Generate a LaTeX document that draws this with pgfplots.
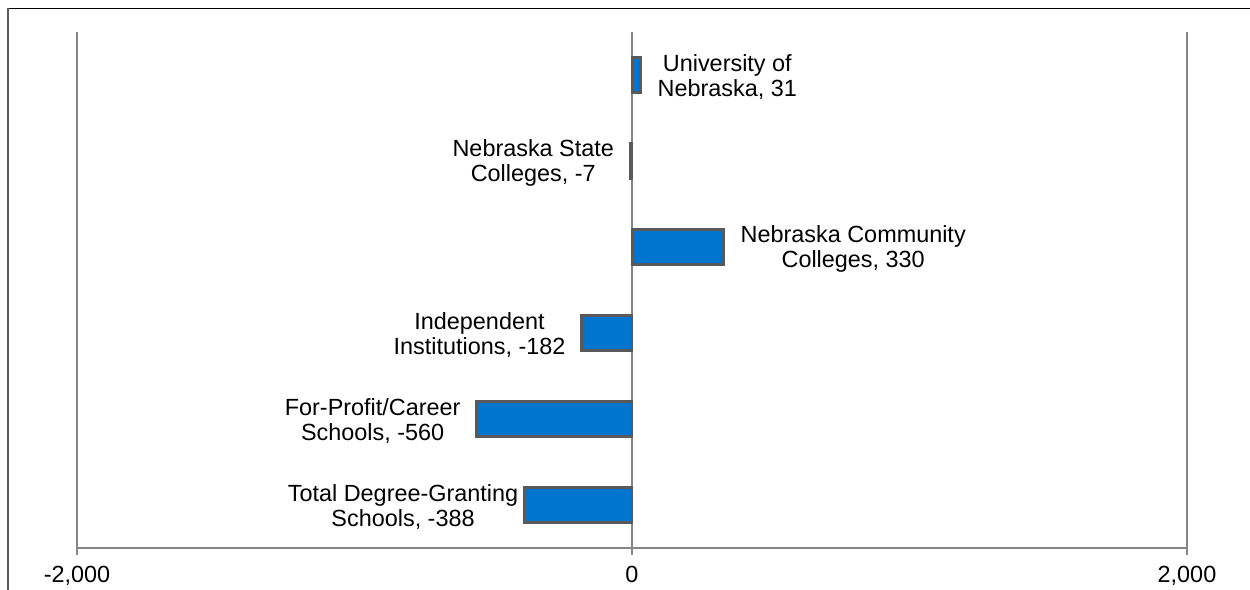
\documentclass[border=0pt]{standalone}
\usepackage{fontspec}
\setmainfont{Liberation Sans}
\usepackage{pgfplots}
\pgfplotsset{compat=1.18}
\definecolor{barblue}{RGB}{0,117,208}
\definecolor{baredge}{RGB}{89,89,89}
\definecolor{gridgray}{RGB}{134,134,134}
\begin{document}
\begin{tikzpicture}
\useasboundingbox (0,0) rectangle (1250bp,590bp);
\draw[black,line width=1.5bp] (6.5bp,581.5bp) -- (1250bp,581.5bp);
\draw[baredge,line width=2bp] (7.5bp,582.25bp) -- (7.5bp,0);
\begin{axis}[
 at={(77bp,42bp)}, anchor=south west,
 scale only axis, width=1110bp, height=516bp,
 xmin=-2000, xmax=2000, ymin=0.5, ymax=6.5,
 axis x line*=bottom, axis y line=none,
 xtick={-2000,0,2000}, xticklabels={{-2,000},0,{2,000}},
 xmajorgrids, grid style={gridgray, line width=1.3bp},
 x axis line style={gridgray, line width=1.3bp},
 major tick length=7bp, tick align=outside,
 xtick style={gridgray, line width=1.3bp},
 xticklabel style={font=\fontsize{23.5}{26}\selectfont, text=black, yshift=-8bp},
 clip=false,
 xbar, bar width=35bp, bar shift=0pt,
 point meta=explicit symbolic,
 nodes near coords,
 nodes near coords style={font=\fontsize{23.5}{25}\selectfont, align=center, inner sep=0pt, text=black, yshift=-2bp},
]
\addplot[fill=barblue, draw=baredge, line width=2.2bp, nodes near coords style={anchor=west, xshift=16bp}] coordinates {
 (31,6) [University of\\Nebraska, 31]
 (330,4) [Nebraska Community\\Colleges, 330]
};
\addplot[fill=barblue, draw=baredge, line width=2.2bp, nodes near coords style={anchor=east, xshift=-15bp}] coordinates {
 (-7,5) [Nebraska State\\Colleges, -7]
 (-182,3) [Independent\\Institutions, -182]
 (-560,2) [For-Profit/Career\\Schools, -560]
};
\addplot[fill=barblue, draw=baredge, line width=2.2bp, nodes near coords style={anchor=east, xshift=-5bp}] coordinates {
 (-388,1) [Total Degree-Granting\\Schools, -388]
};
\end{axis}
\end{tikzpicture}
\end{document}
